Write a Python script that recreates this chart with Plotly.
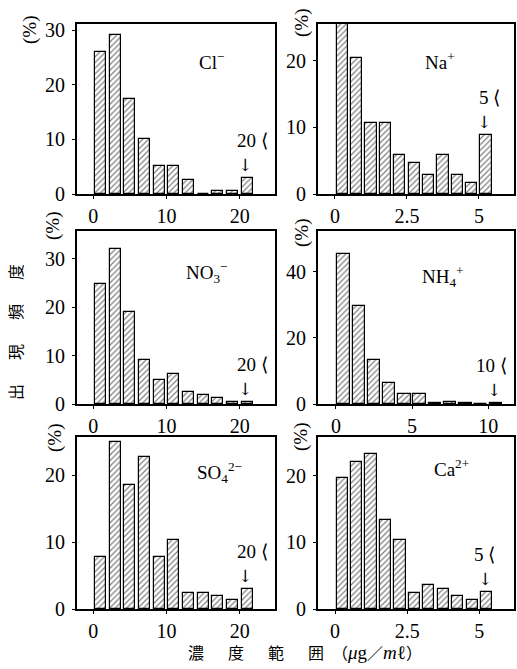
import plotly.graph_objects as go

# ---- data ----
cl_x = [1, 3, 5, 7, 9, 11, 13, 15, 17, 19, 21]
cl_y = [26.0, 29.0, 17.3, 10.1, 5.1, 5.1, 2.6, 0, 0.55, 0.55, 3.0]

na_x = [0.25, 0.75, 1.25, 1.75, 2.25, 2.75, 3.25, 3.75, 4.25, 4.75, 5.25]
na_y = [26.5, 20.4, 10.6, 10.6, 5.9, 4.6, 2.8, 5.8, 2.8, 1.7, 8.8]

no3_x = [1, 3, 5, 7, 9, 11, 13, 15, 17, 19, 21]
no3_y = [24.8, 31.9, 18.9, 9.0, 4.9, 6.2, 2.5, 1.9, 1.3, 0.5, 0.5]

nh4_x = [0.5, 1.5, 2.5, 3.5, 4.5, 5.5, 6.5, 7.5, 8.5, 9.5, 10.5]
nh4_y = [45.4, 29.5, 13.2, 6.3, 2.9, 2.9, 0.3, 0.7, 0.3, 0, 0.3]

so4_x = [1, 3, 5, 7, 9, 11, 13, 15, 17, 19, 21]
so4_y = [7.8, 25.0, 18.5, 22.7, 7.8, 10.3, 2.4, 2.4, 1.9, 1.3, 3.0]

ca_x = [0.25, 0.75, 1.25, 1.75, 2.25, 2.75, 3.25, 3.75, 4.25, 4.75, 5.25]
ca_y = [19.6, 22.1, 23.2, 13.3, 10.3, 2.4, 3.6, 3.0, 1.9, 1.3, 2.5]

ion_labels = ["Cl<sup>−</sup>", "Na<sup>+</sup>", "NO<sub>3</sub><sup>−</sup>",
              "NH<sub>4</sub><sup>+</sup>", "SO<sub>4</sub><sup>2−</sup>", "Ca<sup>2+</sup>"]
over_labels = ["20 ⟨", "5 ⟨", "20 ⟨", "10 ⟨", "20 ⟨", "5 ⟨"]

x_ticks = [[0, 10, 20], [0, 2.5, 5], [0, 10, 20], [0, 5, 10], [0, 10, 20], [0, 2.5, 5]]
x_ticktext = [["0", "10", "20"], ["0", "2.5", "5"], ["0", "10", "20"],
              ["0", "5", "10"], ["0", "10", "20"], ["0", "2.5", "5"]]
y_ticks = [[0, 10, 20, 30], [0, 10, 20], [0, 10, 20, 30], [0, 20, 40], [0, 10, 20], [0, 10, 20]]

xs = [cl_x, na_x, no3_x, nh4_x, so4_x, ca_x]
ys = [cl_y, na_y, no3_y, nh4_y, so4_y, ca_y]
widths = [1.5, 0.39, 1.5, 0.82, 1.5, 0.39]
x_ranges = [[-2.2, 24.8], [-0.59, 6.22], [-2.2, 24.8], [-1.18, 11.7], [-2.2, 24.8], [-0.59, 6.2]]
y_ranges = [[0, 31.1], [0, 25.5], [0, 35.7], [0, 52.3], [0, 25.7], [0, 25.8]]

W, H = 517, 669
col_dom = [[77 / W, 275 / W], [318 / W, 514 / W]]
row_px = [(24, 194), (231, 404), (437, 609)]
row_dom = [[1 - b / H, 1 - t / H] for t, b in row_px]

serif = "Liberation Serif"
fig = go.Figure()
annotations = []

lab_pos = [(211, 61), (440, 61), (207, 272), (443, 276), (219, 472), (451, 468)]
over_shift = [5, 3, 5, -4, 5, -2]

for i in range(6):
    r, c = divmod(i, 2)
    n = i + 1
    xa = "x" if n == 1 else f"x{n}"
    ya = "y" if n == 1 else f"y{n}"
    fig.add_trace(go.Bar(
        x=xs[i], y=ys[i], width=widths[i], xaxis=xa, yaxis=ya,
        marker=dict(color="white", line=dict(color="black", width=1.2),
                    pattern=dict(shape="/", fgcolor="black", bgcolor="white",
                                 size=4, solidity=0.3)),
        showlegend=False, hoverinfo="skip"))
    axis_common = dict(showline=True, linecolor="black", linewidth=2, mirror=True,
                       showgrid=False, zeroline=False, ticks="outside", ticklen=3,
                       tickcolor="black", automargin=False,
                       tickfont=dict(family=serif, size=20, color="black"))
    fig.layout[f"xaxis{'' if n == 1 else n}"] = dict(
        axis_common, domain=col_dom[c], range=x_ranges[i], anchor=ya,
        tickmode="array", tickvals=x_ticks[i], ticktext=x_ticktext[i])
    fig.layout[f"yaxis{'' if n == 1 else n}"] = dict(
        axis_common, domain=row_dom[r], range=y_ranges[i], anchor=xa,
        tickmode="array", tickvals=y_ticks[i], ticklabelstandoff=3)

    # ion label
    px, py = lab_pos[i]
    annotations.append(dict(text=ion_labels[i], xref="paper", yref="paper",
                            x=px / W, y=1 - py / H, xanchor="center", yanchor="middle",
                            showarrow=False,
                            font=dict(family=serif, size=19, color="black")))
    # over-range marker
    lx, lv = xs[i][-1], ys[i][-1]
    annotations.append(dict(text=over_labels[i], xref=xa, yref=ya, x=lx, y=lv,
                            xanchor="center", yanchor="bottom", yshift=25,
                            xshift=over_shift[i], showarrow=False,
                            font=dict(family=serif, size=19, color="black")))
    annotations.append(dict(text="↓", xref=xa, yref=ya, x=lx, y=lv,
                            xanchor="center", yanchor="bottom", yshift=1, xshift=-2,
                            showarrow=False,
                            font=dict(family="DejaVu Serif", size=17, color="black")))

# (%) labels
pct_pos = [(30, 30), (302, 23), (53, 226), (302, 233), (55, 438), (301, 437)]
for px, py in pct_pos:
    annotations.append(dict(text="(%)", xref="paper", yref="paper", x=px / W, y=1 - py / H,
                            xanchor="center", yanchor="middle",
                            textangle=-90, showarrow=False,
                            font=dict(family=serif, size=19, color="black")))

# axis titles
sp = "\u3000\u2002"
annotations.append(dict(text=sp.join(["出", "現", "頻", "度"]), xref="paper", yref="paper",
                        x=15 / W, y=1 - 332 / H, xanchor="center", yanchor="middle",
                        textangle=-90, showarrow=False,
                        font=dict(family="Noto Sans CJK JP", size=16, color="black")))
annotations.append(dict(text=sp.join(["濃", "度", "範", "囲"]) + sp[:1]
                        + "（<span style='font-family:Liberation Serif;font-size:19px'><i>μ</i>g</span>／"
                          "<span style='font-family:Liberation Serif;font-size:19px'><i>m</i>ℓ</span>）",
                        xref="paper", yref="paper",
                        x=305 / W, y=1 - 652 / H, xanchor="center", yanchor="middle",
                        showarrow=False,
                        font=dict(family="Noto Sans CJK JP", size=16, color="black")))

fig.update_layout(width=W, height=H, autosize=False,
                  margin=dict(l=0, r=0, t=0, b=0, autoexpand=False),
                  paper_bgcolor="white", plot_bgcolor="white",
                  bargap=0, annotations=annotations)

fig.write_html("out.html")
